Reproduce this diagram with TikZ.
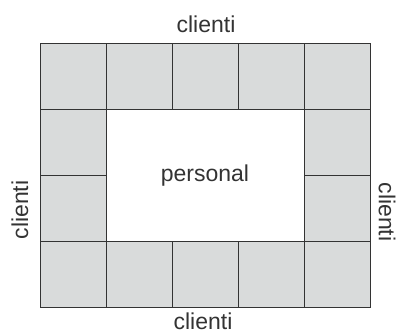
\documentclass[tikz,border=0pt]{standalone}
\usepackage{fontspec}
\setmainfont{Liberation Sans}
\definecolor{cellfill}{HTML}{D9DBDB}
\definecolor{cellline}{HTML}{333333}
\definecolor{txt}{HTML}{333333}
\begin{document}
\begin{tikzpicture}[x=1pt,y=-1pt,
  cell/.style={draw=cellline,fill=cellfill,line width=1.4pt,minimum size=66pt,inner sep=0pt,anchor=north west},
  lbl/.style={text=txt,font=\fontsize{23}{26}\selectfont,inner sep=0pt}]
\useasboundingbox (0,0) rectangle (397,333);
% top row and bottom row
\foreach \i in {0,...,4}{
  \node[cell] (t\i) at ({40+66*\i},43) {};
  \node[cell] (b\i) at ({40+66*\i},241) {};
}
% side cells
\node[cell] (l1) at (40,109) {};
\node[cell] (l2) at (40,175) {};
\node[cell] (r1) at (304,109) {};
\node[cell] (r2) at (304,175) {};
\node[lbl] (top) at (206,24) {clienti};
\node[lbl] (bottom) at (203,321) {clienti};
\node[lbl,rotate=90] (left) at (20,210) {clienti};
\node[lbl,rotate=-90] (right) at (387,212) {clienti};
\node[lbl] (pers) at (205,176) {personal};
\end{tikzpicture}
\end{document}
